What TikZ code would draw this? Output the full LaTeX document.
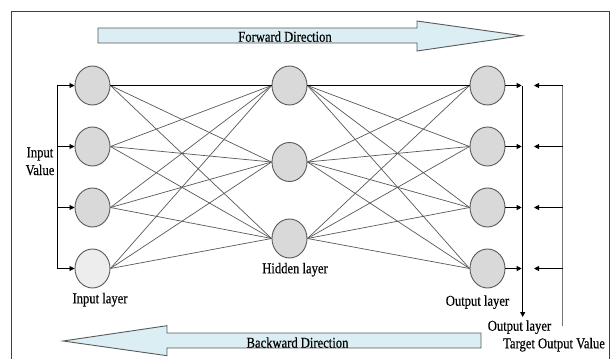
\documentclass[tikz,border=0pt]{standalone}
\usepackage{fontspec}
\setmainfont{Liberation Serif}[FakeStretch=0.84,FakeBold=0.4]
\usetikzlibrary{arrows.meta,shapes.geometric}
\definecolor{nodefill}{HTML}{D9D9D9}
\definecolor{nodelight}{HTML}{EDEDED}
\definecolor{arrfill}{HTML}{DAEEF3}
\definecolor{outline}{HTML}{595959}
\definecolor{framecol}{HTML}{404040}
\begin{document}
\begin{tikzpicture}[x=1pt,y=-1pt,
  neuron/.style={ellipse,draw=outline,line width=0.9pt,fill=nodefill,minimum width=35pt,minimum height=39pt,inner sep=0pt},
  lightneuron/.style={neuron,fill=nodelight},
  conn/.style={draw=black!65,line width=0.7pt},
  mainconn/.style={draw=black,line width=0.8pt},
  arr/.style={draw=black,line width=0.8pt,-{Triangle[length=5pt,width=5pt]}},
  grayline/.style={draw=black!55,line width=0.9pt},
  bigarrow/.style={draw=outline,line width=0.9pt,fill=arrfill},
  lbl/.style={font=\fontsize{15}{17.7}\selectfont,inner sep=0pt,anchor=base}
]
\useasboundingbox (0,0) rectangle (614,359);
\fill[white] (0,0) rectangle (614,359);
% frame
\draw[framecol,line width=1pt] (11.5,362) -- (11.5,11.3) -- (609,11.3) -- (609,362);

% big arrows
\draw[bigarrow] (98,28) -- (417,28) -- (417,21) -- (522,35.7) -- (417,51) -- (417,43) -- (98,43) -- cycle;
\node[lbl] (fwd) at (285,41.7) {Forward Direction};
\draw[bigarrow] (481,333) -- (167,333) -- (167,325.7) -- (63,341) -- (167,355.7) -- (167,348) -- (481,348) -- cycle;
\node[lbl] (bwd) at (297.5,347.7) {Backward Direction};

% neurons
\node[neuron] (i1) at (92.5,85.5) {};
\node[neuron] (i2) at (92.5,146.5) {};
\node[neuron] (i3) at (92.5,207.5) {};
\node[lightneuron] (i4) at (92.5,268.5) {};
\node[neuron] (h1) at (289.5,85.5) {};
\node[neuron] (h2) at (289.5,162) {};
\node[neuron] (h3) at (289.5,238.5) {};
\node[neuron] (o1) at (487.5,85.5) {};
\node[neuron] (o2) at (487.5,146.5) {};
\node[neuron] (o3) at (487.5,207.5) {};
\node[neuron] (o4) at (487.5,268.5) {};

% connections
\foreach \i in {1,...,4}{
  \foreach \h in {1,2,3}{
    \draw[conn] (i\i.east) -- (h\h.west);
    \draw[conn] (h\h.east) -- (o\i.west);
  }
}
\draw[mainconn] (i1.east) -- (h1.west);
\draw[mainconn] (h1.east) -- (o1.west);

% input lines
\coordinate (il1) at (57,85.5);
\coordinate (il2) at (57,146.5);
\coordinate (il3) at (57,207.5);
\coordinate (il4) at (57,268.5);
\draw[draw=black,line width=0.8pt] (il1) -- (il4);
\foreach \k in {1,...,4}{ \draw[arr] (il\k) -- (i\k.west); }
\node[lbl,align=center,anchor=base] (inv) at (40,175) {Input\\Value};

% output lines
\coordinate (ol1) at (522.7,85.5);
\coordinate (ol2) at (522.7,146.5);
\coordinate (ol3) at (522.7,207.5);
\coordinate (ol4) at (522.7,268.5);
\coordinate (olend) at (522.7,317);
\foreach \k in {1,...,4}{ \draw[arr] (o\k.east) -- ([xshift=-1pt]ol\k); }
\draw[arr] (ol1) -- (olend);

% target lines
\coordinate (tr1) at (562.7,85.5);
\coordinate (tr2) at (562.7,146.5);
\coordinate (tr3) at (562.7,207.5);
\coordinate (tr4) at (562.7,268.5);
\coordinate (trend) at (562.7,326);
\coordinate (ta1) at (534,85.5);
\coordinate (ta2) at (534,146.5);
\coordinate (ta3) at (534,207.5);
\coordinate (ta4) at (534,268.5);
\draw[grayline] (tr1) -- (trend);
\foreach \k in {1,...,4}{ \draw[arr] (tr\k) -- (ta\k); }

% labels
\node[lbl] (inl) at (100,303.3) {Input layer};
\node[lbl] (hdl) at (295,273.3) {Hidden layer};
\node[lbl] (outl) at (477.5,305.7) {Output layer};
\node[lbl] (outl2) at (519.5,330.7) {Output layer};
\node[lbl] (tov) at (554,348.3) {Target Output Value};
\end{tikzpicture}
\end{document}
